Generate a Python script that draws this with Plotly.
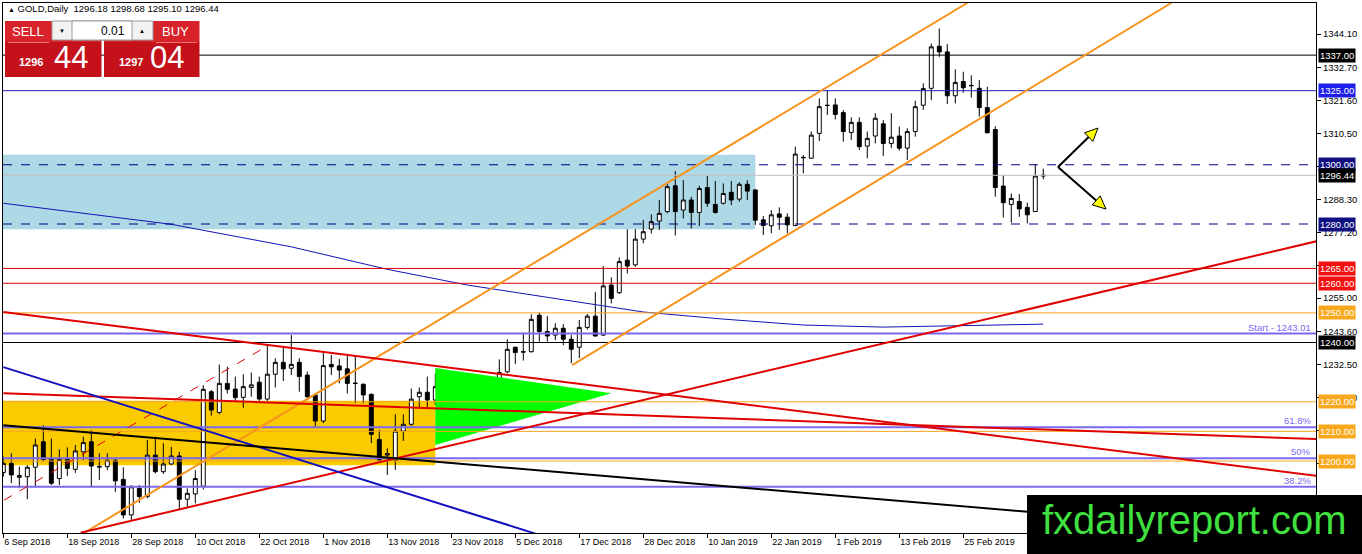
#GOLD daily chart with trade panel and analyst drawings

import pandas as pd
import plotly.graph_objects as go

#trading days shown on the chart
dates = pd.bdate_range('2018-09-06', '2019-03-11', freq='C',
                       holidays=['2018-12-25', '2019-01-01']).strftime('%Y-%m-%d').tolist()

opens = [1196.1, 1199.2, 1194.5, 1194.7, 1197.9, 1206.5, 1200.9, 1194.1, 1200.9, 1197.2,
         1203.1, 1206.5, 1198.2, 1198.1, 1200.3, 1193.8, 1181.8, 1190.8, 1188.0, 1202.0,
         1196.4, 1199.0, 1201.7, 1187.1, 1188.9, 1191.5, 1223.4, 1216.4, 1226.2, 1224.3,
         1221.5, 1224.8, 1226.6, 1220.9, 1229.3, 1233.3, 1231.3, 1233.3, 1229.0, 1222.3,
         1213.5, 1232.6, 1232.1, 1231.1, 1226.3, 1225.9, 1222.5, 1207.3, 1202.0, 1200.3,
         1210.1, 1212.4, 1221.7, 1223.2, 1220.6, 1225.3, 1226.2, 1222.6, 1221.5, 1214.1,
         1220.4, 1223.7, 1221.7, 1230.1, 1238.4, 1236.9, 1236.9, 1249.2, 1243.7, 1242.5,
         1244.8, 1241.1, 1238.4, 1245.1, 1248.9, 1242.5, 1259.4, 1256.8, 1267.8, 1266.2,
         1274.9, 1278.3, 1281.0, 1284.2, 1292.9, 1284.7, 1288.1, 1283.9, 1292.3, 1286.6,
         1287.0, 1290.7, 1288.4, 1293.4, 1291.5, 1281.4, 1279.4, 1283.4, 1282.3, 1279.5,
         1302.5, 1302.2, 1310.6, 1320.1, 1320.2, 1317.6, 1310.9, 1314.3, 1306.3, 1309.7,
         1313.8, 1307.2, 1309.7, 1305.6, 1311.2, 1320.1, 1325.8, 1340.0, 1338.1, 1323.3,
         1328.1, 1326.8, 1325.8, 1319.3, 1311.9, 1292.8, 1286.6, 1287.6, 1285.6, 1284.2,
         1296.18]
highs = [1201.5, 1202.6, 1198.1, 1198.6, 1207.6, 1212.1, 1207.6, 1203.9, 1204.6, 1205.4,
         1208.2, 1210.4, 1202.6, 1202.6, 1200.9, 1197.9, 1191.9, 1191.9, 1207.1, 1208.2,
         1206.0, 1204.8, 1203.1, 1190.8, 1196.9, 1225.6, 1224.0, 1232.6, 1231.8, 1228.5,
         1229.3, 1229.9, 1228.5, 1238.9, 1234.7, 1238.3, 1242.5, 1234.7, 1230.2, 1222.8,
         1236.7, 1235.8, 1234.4, 1235.6, 1235.2, 1226.2, 1222.8, 1210.5, 1204.3, 1215.8,
         1215.8, 1224.5, 1224.8, 1228.5, 1229.6, 1228.2, 1227.6, 1225.7, 1224.5, 1222.8,
         1228.5, 1224.9, 1234.3, 1241.1, 1238.6, 1243.3, 1249.5, 1250.1, 1248.9, 1246.5,
         1246.2, 1242.5, 1247.6, 1249.6, 1257.1, 1265.8, 1262.0, 1268.7, 1278.2, 1278.3,
         1281.4, 1283.3, 1288.1, 1293.7, 1297.9, 1294.8, 1289.2, 1292.9, 1296.3, 1294.5,
         1293.7, 1294.5, 1294.1, 1294.8, 1291.8, 1282.7, 1284.7, 1285.6, 1283.6, 1306.1,
         1303.3, 1311.2, 1322.4, 1325.2, 1322.4, 1318.5, 1316.0, 1316.0, 1311.2, 1317.4,
         1315.1, 1317.4, 1312.9, 1312.3, 1321.6, 1327.5, 1340.9, 1346.0, 1340.7, 1332.2,
         1331.4, 1330.2, 1328.6, 1326.3, 1313.0, 1296.5, 1290.3, 1290.1, 1287.2, 1300.2,
         1298.68]
lows = [1194.7, 1192.5, 1190.8, 1187.1, 1191.3, 1199.8, 1191.9, 1191.9, 1194.9, 1196.0,
        1200.3, 1191.3, 1193.6, 1196.9, 1189.6, 1180.6, 1180.1, 1185.9, 1187.4, 1195.8,
        1195.6, 1198.6, 1183.7, 1184.6, 1185.7, 1190.4, 1215.3, 1215.8, 1222.8, 1220.3,
        1218.0, 1221.7, 1220.3, 1220.3, 1224.8, 1227.0, 1229.0, 1223.4, 1220.6, 1211.6,
        1212.8, 1229.0, 1226.2, 1222.8, 1219.5, 1219.5, 1206.0, 1199.8, 1195.3, 1197.0,
        1206.8, 1211.9, 1217.6, 1217.6, 1218.9, 1224.5, 1219.5, 1217.8, 1211.6, 1211.0,
        1218.3, 1216.3, 1220.6, 1229.6, 1232.7, 1233.9, 1236.6, 1240.3, 1240.3, 1240.8,
        1239.1, 1233.0, 1234.7, 1244.4, 1242.0, 1242.2, 1253.2, 1256.4, 1263.3, 1265.6,
        1273.5, 1276.8, 1278.0, 1283.6, 1276.1, 1281.9, 1278.5, 1279.3, 1285.8, 1283.5,
        1286.6, 1286.4, 1287.5, 1288.1, 1279.7, 1276.3, 1276.9, 1278.0, 1276.9, 1279.2,
        1297.1, 1302.0, 1308.0, 1316.8, 1315.3, 1307.8, 1308.4, 1305.0, 1302.2, 1307.2,
        1303.0, 1305.6, 1304.8, 1301.6, 1309.5, 1318.5, 1321.8, 1336.4, 1320.5, 1320.7,
        1324.3, 1322.7, 1316.2, 1310.6, 1289.2, 1282.2, 1280.4, 1282.4, 1280.2, 1284.1,
        1295.10]
closes = [1199.2, 1195.3, 1195.1, 1197.9, 1205.4, 1200.5, 1192.5, 1200.5, 1197.5, 1203.4,
          1206.2, 1198.3, 1198.0, 1200.3, 1193.3, 1181.8, 1191.3, 1188.0, 1202.0, 1196.4,
          1199.0, 1201.7, 1187.1, 1189.1, 1194.1, 1224.2, 1217.2, 1226.2, 1224.2, 1221.4,
          1225.1, 1225.7, 1220.9, 1229.3, 1233.3, 1231.1, 1232.6, 1228.5, 1221.7, 1213.5,
          1232.2, 1231.8, 1230.7, 1226.2, 1226.2, 1222.3, 1209.0, 1200.3, 1202.5, 1210.1,
          1212.4, 1220.9, 1223.2, 1220.6, 1225.1, 1226.8, 1221.9, 1221.2, 1214.1, 1220.4,
          1223.7, 1221.2, 1229.9, 1237.7, 1236.6, 1236.8, 1247.8, 1243.7, 1242.2, 1244.8,
          1241.1, 1237.7, 1245.1, 1248.9, 1242.2, 1259.1, 1254.9, 1267.3, 1265.8, 1274.9,
          1277.4, 1280.8, 1283.6, 1292.6, 1284.2, 1288.1, 1283.9, 1292.0, 1287.0, 1283.9,
          1290.3, 1288.1, 1293.4, 1291.1, 1281.3, 1279.5, 1283.1, 1282.3, 1279.7, 1303.6,
          1302.4, 1310.0, 1319.6, 1320.0, 1317.0, 1311.2, 1314.3, 1306.1, 1308.9, 1315.7,
          1307.2, 1309.3, 1305.6, 1311.2, 1319.6, 1325.7, 1339.8, 1338.1, 1323.3, 1327.8,
          1326.0, 1326.7, 1319.3, 1310.8, 1292.3, 1287.2, 1288.6, 1285.1, 1283.1, 1296.2,
          1296.44]

#moving average line (bar index, value)
ma_idx = [0, 21, 36, 48, 58, 70, 80, 90, 100, 110, 120, 130]
ma_vals = [1287.0, 1279.9, 1272.3, 1264.7, 1259.4, 1254.3, 1250.3, 1247.9, 1245.9, 1245.2, 1245.6, 1246.2]

#price axis ticks (labels hidden behind the price boxes are left blank)
y_ticks = [1344.10, 1332.70, 1321.60, 1310.50, 1299.40, 1288.30, 1277.20, 1266.10,
           1255.00, 1243.60, 1232.50, 1221.40, 1210.30, 1199.20, 1188.10, 1177.00]
y_hidden = [1299.40, 1266.10, 1210.30, 1199.20, 1188.10, 1177.00]

#horizontal levels
levels = [1337.00, 1325.00, 1300.00, 1280.00, 1265.00, 1260.00, 1250.00, 1240.00, 1220.00, 1210.00, 1200.00]
level_colors = ['black', '#1C1CC8', '#000080', '#000080', '#E00000', '#E00000', '#F5A623',
                'black', '#F5A623', '#F5A623', '#F5A623']
label_colors = ['black', '#1E1EE6', '#101080', '#101080', '#F01010', '#F01010', '#F8A81C',
                'black', '#F8A81C', '#F8A81C', '#F8A81C']
level_dash = ['solid', 'solid', 'dash', 'dash', 'solid', 'solid', 'solid', 'solid', 'solid', 'solid', 'solid']
bid = 1296.44
start_level = 1243.01
fib_levels = [1211.4, 1200.9, 1191.3]
fib_names = ['61.8%', '50%', '38.2%']

#zones (bar index from/to, price from/to)
blue_zone = (-1, 94.0, 1278.2, 1303.4)
gold_zone = (-1, 54.0, 1198.6, 1220.3)
tri_idx = [54, 54, 76, 54]
tri_price = [1231.4, 1205.4, 1222.9, 1231.4]

#trend lines: bar index / price at both ends
trend_lines = [
    (9.66, 1175.0, 120.5, 1354.6, '#F7941D', 2, 'solid'),
    (71.1, 1232.4, 146.0, 1354.6, '#F7941D', 2, 'solid'),
    (0.0, 1250.3, 164.2, 1195.0, '#E00000', 2, 'solid'),
    (0.0, 1222.9, 164.2, 1207.4, '#E00000', 2, 'solid'),
    (9.66, 1175.8, 164.2, 1274.2, '#E00000', 2, 'solid'),
    (0.1, 1186.8, 32.8, 1238.5, '#E00000', 1, 'dash'),
    (0.0, 1231.7, 66.5, 1175.5, '#1010C0', 2, 'solid'),
    (0.0, 1212.1, 128.4, 1182.8, 'black', 2, 'solid'),
]

#pixel -> paper helpers for the decorations
def xp(px):
    return (px - 3) / 1313

def yp(py):
    return 1 - (py - 3) / 530

fig = go.Figure()

fig.add_trace(go.Scatter(x=[dates[k] for k in tri_idx], y=tri_price, mode='lines',
                         fill='toself', fillcolor='#00FF00', line=dict(width=0),
                         hoverinfo='skip'))
fig.add_trace(go.Scatter(x=[dates[k] for k in ma_idx], y=ma_vals, mode='lines',
                         line=dict(color='#1414B4', width=1), hoverinfo='skip'))
fig.add_trace(go.Candlestick(x=dates, open=opens, high=highs, low=lows, close=closes,
                             increasing=dict(line=dict(color='black', width=1), fillcolor='white'),
                             decreasing=dict(line=dict(color='black', width=1), fillcolor='black'),
                             whiskerwidth=0))

shapes = []
#background zones
shapes.append(dict(type='rect', xref='x', yref='y', x0=blue_zone[0], x1=blue_zone[1],
                   y0=blue_zone[2], y1=blue_zone[3], fillcolor='#ADD8E6', line=dict(width=0), layer='below'))
shapes.append(dict(type='rect', xref='x', yref='y', x0=gold_zone[0], x1=gold_zone[1],
                   y0=gold_zone[2], y1=gold_zone[3], fillcolor='#FACC00', line=dict(width=0), layer='below'))

#horizontal lines
for lv, col, dsh in zip(levels, level_colors, level_dash):
    shapes.append(dict(type='line', xref='paper', yref='y', x0=0, x1=1, y0=lv, y1=lv,
                       line=dict(color=col, width=1, dash=dsh)))
shapes.append(dict(type='line', xref='paper', yref='y', x0=0, x1=1, y0=bid, y1=bid,
                   line=dict(color='#C0C0C0', width=1)))
shapes.append(dict(type='line', xref='paper', yref='y', x0=0, x1=1, y0=start_level, y1=start_level,
                   line=dict(color='#7B68EE', width=2)))
for fl in fib_levels:
    shapes.append(dict(type='line', xref='paper', yref='y', x0=0, x1=1, y0=fl, y1=fl,
                       line=dict(color='#7B68EE', width=2)))

#trend lines
for x0, y0, x1, y1, col, w, dsh in trend_lines:
    shapes.append(dict(type='line', xref='x', yref='y', x0=x0, y0=y0, x1=x1, y1=y1,
                       line=dict(color=col, width=w, dash=dsh)))

#arrows (drawn in pixel space)
def arrow(tail, tip):
    dx, dy = tip[0] - tail[0], tip[1] - tail[1]
    ln = (dx * dx + dy * dy) ** 0.5
    ux, uy = dx / ln, dy / ln
    bx, by = tip[0] - 13 * ux, tip[1] - 13 * uy
    nx, ny = -uy, ux
    shapes.append(dict(type='line', xref='paper', yref='paper', x0=xp(tail[0]), y0=yp(tail[1]),
                       x1=xp(bx), y1=yp(by), line=dict(color='black', width=2)))
    pts = [(tip[0], tip[1]), (bx + 6 * nx, by + 6 * ny), (bx - 6 * nx, by - 6 * ny)]
    path = 'M ' + ' L '.join('%.5f %.5f' % (xp(a), yp(b)) for a, b in pts) + ' Z'
    shapes.append(dict(type='path', xref='paper', yref='paper', path=path,
                       fillcolor='#FFFF00', line=dict(color='black', width=1)))

arrow((1058, 167), (1098, 128))
arrow((1058, 167), (1106, 209))

#trade panel
def box(x0, y0, x1, y1, fill, line=None):
    shapes.append(dict(type='rect', xref='paper', yref='paper', x0=xp(x0), x1=xp(x1),
                       y0=yp(y1), y1=yp(y0), fillcolor=fill, layer='above',
                       line=dict(width=1 if line else 0, color=line or fill)))

box(5, 21, 101.5, 42, '#D8232A')
box(5, 42, 101.5, 77, '#C4111A')
box(104, 21, 199.5, 42, '#D8232A')
box(104, 42, 199.5, 77, '#C4111A')
box(8, 42, 49, 43, '#EE7070')
box(156, 42, 197, 43, '#EE7070')
box(52, 21, 153, 40, '#F2F2F2', '#9A9A9A')
box(72, 21, 132, 40, 'white', '#9A9A9A')
#logo
box(1027, 495, 1370, 560, 'black')

annotations = []
def txt(px, py, text, size, color, anchor='center', family='Liberation Sans', bold=False):
    if bold:
        text = '<b>' + text + '</b>'
    annotations.append(dict(xref='paper', yref='paper', x=xp(px), y=yp(py), text=text,
                            showarrow=False, xanchor=anchor, yanchor='middle',
                            font=dict(size=size, color=color, family=family)))

txt(6, 9, "<span style='font-size:7px'>▲</span> GOLD,Daily  1296.18 1298.68 1295.10 1296.44", 9.5, 'black', 'left')
txt(28, 32, 'SELL', 13, 'white')
txt(175, 32, 'BUY', 13, 'white')
txt(62, 31, '▼', 6, 'black')
txt(142, 31, '▲', 6, 'black')
txt(127, 31, '0.01', 12, 'black', 'right')
txt(31, 62, '1296', 11, 'white', bold=True)
txt(71, 58, '44', 31, 'white')
txt(131, 62, '1297', 11, 'white', bold=True)
txt(167, 58, '04', 31, 'white')
txt(1194, 520, 'fxdailyreport.com', 40, '#3FE03F')

#price boxes on the axis
for lv, col in zip(levels, label_colors):
    annotations.append(dict(xref='paper', yref='y', x=xp(1318), y=lv, text='%.2f' % lv,
                            showarrow=False, xanchor='left', yanchor='middle', bgcolor=col,
                            borderpad=1, font=dict(size=9.5, color='white', family='Liberation Sans')))
annotations.append(dict(xref='paper', yref='y', x=xp(1318), y=bid, text='%.2f' % bid,
                        showarrow=False, xanchor='left', yanchor='middle', bgcolor='black',
                        borderpad=1, font=dict(size=9.5, color='white', family='Liberation Sans')))
annotations.append(dict(xref='paper', yref='y', x=xp(1313), y=start_level, text='Start - %.2f' % start_level,
                        showarrow=False, xanchor='right', yanchor='bottom', yshift=-1,
                        font=dict(size=9.5, color='#7B68EE', family='Liberation Sans')))
for fl, nm in zip(fib_levels, fib_names):
    annotations.append(dict(xref='paper', yref='y', x=xp(1313), y=fl, text=nm,
                            showarrow=False, xanchor='right', yanchor='bottom', yshift=-1,
                            font=dict(size=9.5, color='#7B68EE', family='Liberation Sans')))

tick_idx = list(range(0, len(dates), 8))
tick_text = [pd.Timestamp(dates[k]).strftime('%-d %b %Y') for k in tick_idx]
y_text = ['' if v in y_hidden else '%.2f' % v for v in y_ticks]

layout = go.Layout(
    width=1362, height=554,
    margin=dict(l=3, r=46, t=3, b=21),
    paper_bgcolor='white', plot_bgcolor='white',
    showlegend=False, hovermode=False,
    font=dict(family='Liberation Sans', size=9, color='black'),
    xaxis=dict(type='category', categoryorder='array', categoryarray=dates,
               range=[-0.04, 164.09], showgrid=False, zeroline=False,
               showline=True, linecolor='black', linewidth=1, mirror=True,
               ticks='outside', ticklen=4, tickcolor='black', tickangle=0,
               tickvals=[dates[k] for k in tick_idx], ticktext=tick_text,
               ticklabelposition='outside right', tickfont=dict(size=9),
               rangeslider=dict(visible=False), fixedrange=True, automargin=False),
    yaxis=dict(side='right', range=[1175.7, 1354.6], showgrid=False, zeroline=False,
               showline=True, linecolor='black', linewidth=1, mirror=True,
               ticks='outside', ticklen=4, tickcolor='black',
               tickvals=y_ticks, ticktext=y_text,
               tickfont=dict(size=9.5), fixedrange=True, automargin=False),
    shapes=shapes, annotations=annotations)

fig.update_layout(layout)
fig.write_html("out.html", config={'displayModeBar': False},
               post_script="document.body.style.margin='0';")
